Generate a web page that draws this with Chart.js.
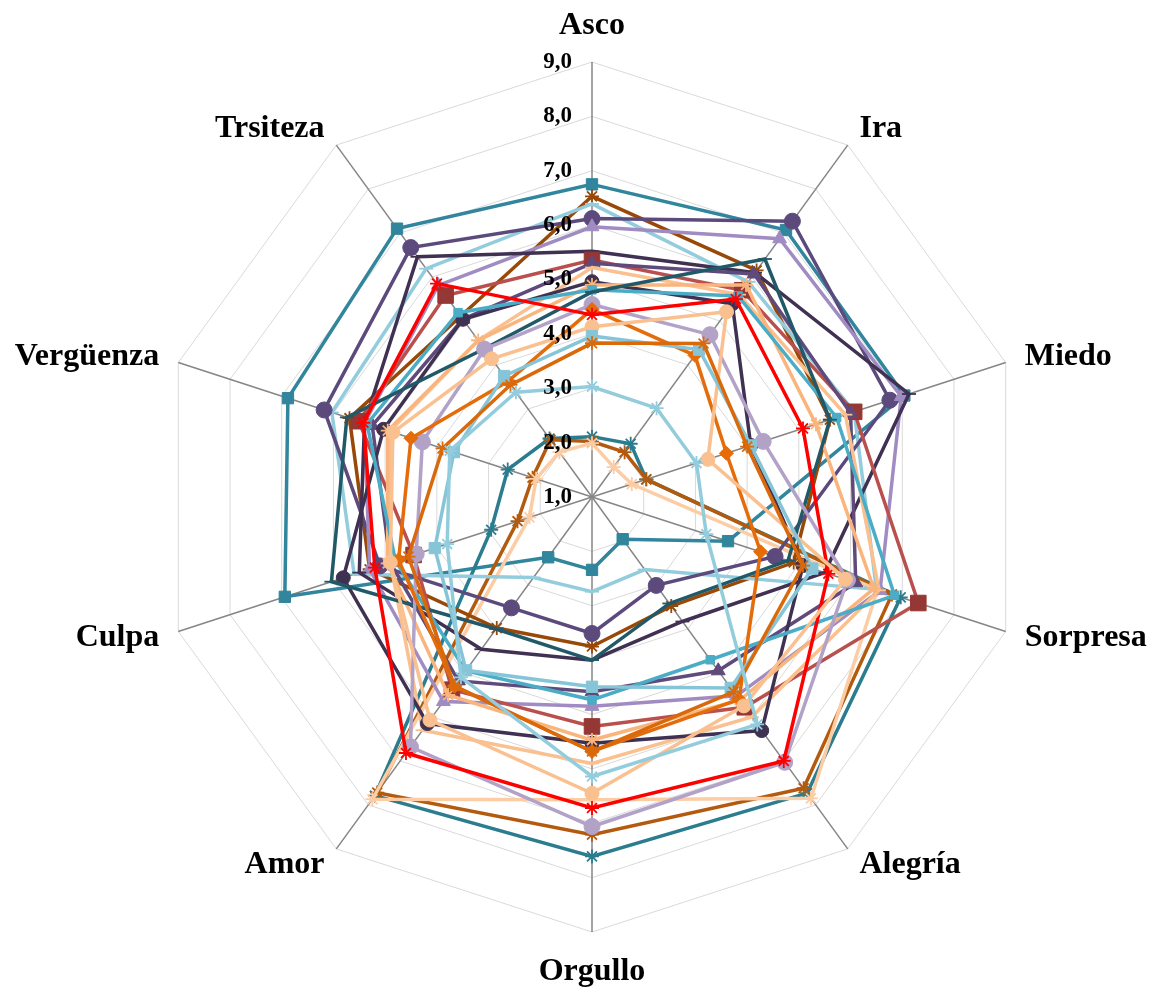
<!DOCTYPE html>
<html>
<head>
<meta charset="utf-8">
<script src="https://cdn.jsdelivr.net/npm/chart.js@4.4.1/dist/chart.umd.min.js"></script>
<style>
  html, body { margin: 0; padding: 0; background: #ffffff; overflow: hidden; }
  #wrap { width: 1164px; height: 992px; }
</style>
</head>
<body>
<div id="wrap"><canvas id="radar" width="1164" height="992"></canvas></div>
<script>
// Emotion categories around the radar
const categories = ['Asco', 'Ira', 'Miedo', 'Sorpresa', 'Alegría', 'Orgullo', 'Amor', 'Culpa', 'Vergüenza', 'Trsiteza'];

// Radial scale ticks
const tickValues = [1, 2, 3, 4, 5, 6, 7, 8, 9];
const tickLabels = ['1,0', '2,0', '3,0', '4,0', '5,0', '6,0', '7,0', '8,0', '9,0'];

// Series values, in category order
const serieTealSquare   = [6.75, 7.07, 7.04, 3.63, 1.96, 2.34, 2.37, 6.94, 6.88, 7.10];
const serieTealStar     = [2.11, 2.21, 2.05, 6.97, 7.73, 7.61, 7.79, 2.95, 2.63, 2.33];
const serieBrownStar    = [2.02, 2.02, 2.05, 6.80, 7.62, 7.21, 7.72, 2.44, 2.15, 2.30];
const seriePaleApricot  = [1.99, 1.68, 1.77, 6.52, 7.85, 6.57, 7.87, 2.21, 2.08, 2.02];
const serieDarkBrown    = [6.53, 6.15, 5.60, 4.90, 3.48, 3.75, 3.98, 5.30, 5.69, 5.11];
const serieSkyBlue      = [6.39, 5.89, 6.07, 6.50, 2.65, 2.74, 2.83, 5.60, 6.03, 6.19];
const seriePlumCircle   = [6.12, 7.27, 6.76, 4.54, 3.01, 3.51, 3.52, 5.10, 6.18, 6.67];
const serieLilacTri     = [5.97, 6.87, 6.98, 6.57, 5.52, 4.85, 5.65, 5.30, 5.40, 5.81];
const serieNavy         = [5.52, 6.10, 7.13, 5.50, 3.83, 4.00, 4.46, 5.50, 5.40, 6.46];
const serieMaroonSquare = [5.36, 5.70, 6.07, 7.31, 5.78, 5.22, 5.38, 4.45, 5.51, 5.58];
const seriePurpleTri    = [5.30, 6.07, 6.00, 6.10, 4.95, 4.58, 5.18, 4.90, 5.25, 5.04];
const serieApricot      = [5.22, 5.60, 5.90, 6.55, 6.00, 5.90, 6.30, 4.90, 4.91, 4.56];
const serieNavyCircle   = [4.96, 5.39, 4.07, 5.08, 6.31, 5.53, 6.15, 5.81, 5.03, 5.04];
const serieApricotStar  = [4.90, 5.82, 5.33, 6.45, 5.62, 5.47, 5.50, 4.95, 4.95, 4.56];
const serieCyan         = [4.81, 5.57, 5.73, 6.85, 4.70, 4.73, 4.95, 4.80, 5.35, 5.19];
const serieDeepTeal     = [4.77, 6.41, 5.60, 4.79, 3.42, 4.00, 4.00, 6.04, 5.74, 4.37];
const serieLilacCircle  = [4.54, 4.69, 4.31, 5.94, 7.03, 7.06, 6.68, 4.40, 4.28, 4.36];
const serieOrangeDiam   = [4.45, 4.22, 3.60, 4.26, 5.60, 5.68, 5.30, 4.74, 4.50, 3.63];
const serieRedStar      = [4.35, 5.50, 5.08, 5.57, 7.00, 6.72, 6.82, 5.20, 5.42, 5.85];
const serieApricotDot   = [4.13, 5.21, 3.24, 5.90, 5.75, 6.45, 6.07, 4.90, 4.85, 4.14];
const serieIceSquare    = [3.96, 4.35, 4.07, 5.26, 5.34, 4.49, 4.94, 4.04, 3.67, 3.75];
const serieOrangeStar   = [3.83, 4.49, 4.00, 5.08, 5.43, 5.68, 5.30, 4.55, 3.89, 3.55];
const serieIceStar      = [3.03, 3.02, 3.02, 3.21, 6.17, 6.14, 5.10, 3.80, 3.75, 3.38];

function series(data, color, style, radius, markerColor) {
  const mc = markerColor || color;
  return {
    data: data,
    borderColor: color,
    backgroundColor: mc,
    borderWidth: 3.5,
    fill: false,
    tension: 0,
    pointStyle: style,
    pointRadius: radius,
    pointBorderColor: mc,
    pointBackgroundColor: mc,
    pointBorderWidth: style === 'star' || style === 'line' ? 1.8 : 1,
    pointHoverRadius: radius
  };
}

const datasets = [
  series(serieTealSquare,   '#31859C', 'rect', 8),
  series(serieTealStar,     '#2A7C8E', 'star', 7),
  series(serieBrownStar,    '#B35A0E', 'star', 7),
  series(seriePaleApricot,  '#FCCCA4', 'star', 7),
  series(serieDarkBrown,    '#984807', 'star', 7),
  series(serieSkyBlue,      '#93CDDD', 'line', 7),
  series(seriePlumCircle,   '#5C4A7D', 'circle', 8),
  series(serieLilacTri,     '#A08CC2', 'triangle', 8),
  series(serieNavy,         '#403152', 'line', 7),
  series(serieMaroonSquare, '#B9504E', 'rect', 11, '#953735'),
  series(seriePurpleTri,    '#604A7B', 'triangle', 8),
  series(serieApricot,      '#FAC090', 'line', 7),
  series(serieNavyCircle,   '#3F3151', 'circle', 7),
  series(serieApricotStar,  '#F9B57D', 'star', 7),
  series(serieCyan,         '#4BACC6', 'rect', 6),
  series(serieDeepTeal,     '#215968', 'line', 7),
  series(serieLilacCircle,  '#B3A2C7', 'circle', 8),
  series(serieOrangeDiam,   '#E46C0A', 'rectRot', 7),
  series(serieRedStar,      '#FF0000', 'star', 7),
  series(serieApricotDot,   '#FAC090', 'circle', 7),
  series(serieIceSquare,    '#86C5D8', 'rect', 8),
  series(serieOrangeStar,   '#D9690B', 'star', 7),
  series(serieIceStar,      '#93CDDD', 'star', 7)
];
// later series paint over earlier ones
datasets.forEach((d, i) => { d.order = datasets.length - i; });

const serif = '"Liberation Serif", "Times New Roman", serif';

const labelPlugin = {
  id: 'radarLabels',
  afterDatasetsDraw(chart) {
    const s = chart.scales.r;
    const ctx = chart.ctx;
    ctx.save();
    ctx.fillStyle = '#000000';

    // value labels beside the first spoke
    ctx.font = 'bold 23px ' + serif;
    ctx.textAlign = 'right';
    ctx.textBaseline = 'middle';
    tickValues.forEach((v, i) => {
      const p = s.getPointPosition(0, s.getDistanceFromCenterForValue(v));
      ctx.fillText(tickLabels[i], p.x - 20, p.y);
    });

    // category names outside the outer ring
    ctx.font = 'bold 32px ' + serif;
    const n = categories.length;
    categories.forEach((c, i) => {
      if (i === 0) {
        const p = s.getPointPosition(i, s.drawingArea + 28);
        ctx.textAlign = 'center';
        ctx.textBaseline = 'alphabetic';
        ctx.fillText(c, p.x, p.y);
      } else if (i === n / 2) {
        const p = s.getPointPosition(i, s.drawingArea + 24);
        ctx.textAlign = 'center';
        ctx.textBaseline = 'top';
        ctx.fillText(c, p.x, p.y);
      } else {
        const p = s.getPointPosition(i, s.drawingArea + 20);
        ctx.textAlign = i < n / 2 ? 'left' : 'right';
        ctx.textBaseline = 'middle';
        ctx.fillText(c, p.x, p.y);
      }
    });
    ctx.restore();
  }
};

new Chart(document.getElementById('radar'), {
  type: 'radar',
  data: { labels: categories, datasets: datasets },
  options: {
    responsive: false,
    animation: false,
    devicePixelRatio: 1,
    layout: { padding: { left: 20, right: 0, top: 62, bottom: 60 } },
    plugins: { legend: { display: false }, tooltip: { enabled: false } },
    elements: { line: { borderJoinStyle: 'miter' } },
    scales: {
      r: {
        min: 1,
        max: 9,
        ticks: { display: false, stepSize: 1 },
        pointLabels: { display: false },
        grid: { color: '#D9D9D9', lineWidth: 1 },
        angleLines: { color: '#868686', lineWidth: 1.5 }
      }
    }
  },
  plugins: [labelPlugin]
});
</script>
</body>
</html>
